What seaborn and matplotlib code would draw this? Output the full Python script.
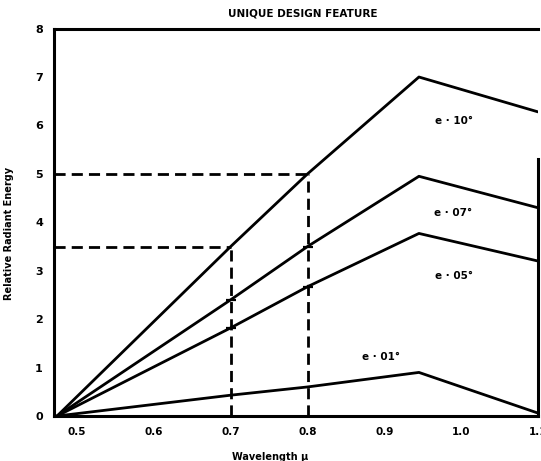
"""Recreation of the scanned 'Unique Design Feature' radiant energy chart."""

import matplotlib
matplotlib.use("Agg")
import matplotlib.pyplot as plt
import pandas as pd
import seaborn as sns

# ---------------------------------------------------------------------------
# Data
# ---------------------------------------------------------------------------
wavelength = [0.474, 0.70, 0.80, 0.945, 1.10]
energy_e10 = [0.0, 3.50, 5.00, 7.00, 6.28]
energy_e07 = [0.0, 2.40, 3.50, 4.95, 4.30]
energy_e05 = [0.0, 1.82, 2.67, 3.77, 3.20]
energy_e01 = [0.0, 0.43, 0.60, 0.90, 0.06]
curve_labels = ["e · 10°", "e · 07°", "e · 05°", "e · 01°"]

guide_x = [0.7, 0.8]
guide_y = [3.5, 5.0]

x_ticks = [0.5, 0.6, 0.7, 0.8, 0.9, 1.0, 1.1]
y_ticks = [0, 1, 2, 3, 4, 5, 6, 7, 8]

df = pd.DataFrame({
    "wavelength": wavelength * 4,
    "energy": energy_e10 + energy_e07 + energy_e05 + energy_e01,
    "curve": [lab for lab in curve_labels for _ in wavelength],
})

sns.set_theme(style="white")
plt.rcParams.update({
    "font.family": ["DejaVu Sans"],
    "font.weight": "bold",
    "text.color": "black",
    "axes.labelcolor": "black",
    "xtick.color": "black",
    "ytick.color": "black",
})

fig = plt.figure(figsize=(5.41, 4.61), dpi=100)
ax = fig.add_axes([0.0998, 0.0976, 0.8947, 0.8404])

sns.lineplot(data=df, x="wavelength", y="energy", hue="curve",
             palette=["black"] * 4, estimator=None, sort=False,
             linewidth=2, legend=False, ax=ax)

x_left, x_right = 0.47, 1.1
# dashed guides from the left axis and up from the x axis
for gx, gy in zip(guide_x, guide_y):
    ax.plot([x_left, gx], [gy, gy], color="black", lw=2, ls=(0, (4, 2.2)))
    ax.plot([gx, gx], [0, gy], color="black", lw=2, ls=(0, (4, 2.2)))

# short crossing marks on the lower curves at the guide wavelengths
for series in (energy_e07, energy_e05):
    ax.scatter(wavelength[1:3], series[1:3], marker="_", s=60,
               color="black", linewidths=1.6, zorder=3)

# curve labels
label_pos = [(0.99, 6.1), (0.99, 4.2), (0.99, 2.9), (0.895, 1.22)]
for text, (tx, ty) in zip(curve_labels, label_pos):
    ax.text(tx, ty, text, ha="center", va="center", fontsize=7.5,
            fontweight="bold")

ax.set_xlim(x_left, x_right)
ax.set_ylim(0, 8)
ax.set_xticks(x_ticks)
ax.set_xticklabels([f"{v:.1f}" for v in x_ticks], fontsize=7.5,
                   fontweight="bold")
ax.set_yticks(y_ticks)
ax.set_yticklabels([str(v) for v in y_ticks], fontsize=8, fontweight="bold")
ax.tick_params(axis="both", direction="in", length=4, width=1.5,
               color="black")
ax.tick_params(axis="y", pad=8)
ax.tick_params(axis="x", pad=8)

for name, spine in ax.spines.items():
    spine.set_color("black")
    spine.set_linewidth(2.2)
ax.spines["right"].set_bounds(0, 5.3)

ax.set_xlabel("Wavelength μ", fontsize=7, fontweight="bold")
ax.xaxis.set_label_coords(0.446, -0.093)
ax.set_ylabel("Relative Radiant Energy", fontsize=7, fontweight="bold")
ax.yaxis.set_label_coords(-0.083, 0.47)

fig.text(0.56, 1 - 14 / 461, "UNIQUE DESIGN FEATURE", ha="center",
         va="center", fontsize=7.5, fontweight="bold")

fig.savefig("out.png", dpi=100)
